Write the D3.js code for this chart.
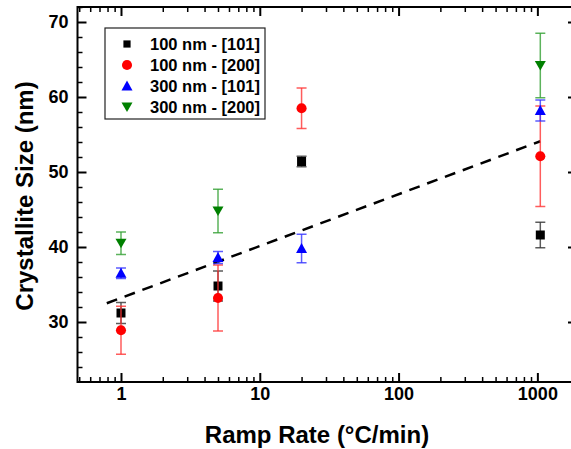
<!DOCTYPE html>
<html lang="en">
<head>
<meta charset="UTF-8">
<title>Crystallite Size vs Ramp Rate</title>
<script src="https://d3js.org/d3.v7.min.js"></script>
<style>
  body { margin: 0; background: #fff; }
  text { font-family: "Liberation Sans", Arial, sans-serif; font-weight: bold; }
</style>
</head>
<body>
<script>
// data
var rampRates = [1, 5, 20, 1050];
var seriesNames = ["100 nm - [101]", "100 nm - [200]", "300 nm - [101]", "300 nm - [200]"];
var size100_101 = [31.2, 34.8, 51.4, 41.6];
var err100_101 = [1.4, 2.0, 0.7, 1.7];
var size100_200 = [28.9, 33.2, 58.5, 52.1];
var err100_200 = [3.2, 4.4, 2.7, 6.7];
var size300_101 = [36.5, 38.6, 39.8, 58.2];
var err300_101 = [0.7, 0.8, 1.9, 1.4];
var size300_200 = [40.5, 44.8, null, 64.2];
var err300_200 = [1.5, 2.9, null, 4.3];
var fitX = [0.79, 1050];
var fitY = [32.5, 54.1];
var xTickLabels = [1, 10, 100, 1000];
var yTickLabels = [30, 40, 50, 60, 70];

var W = 571, H = 449;
var pLeft = 77.5, pRight = 577, pTop = 7, pBottom = 382;

var svg = d3.select("body").append("svg")
    .attr("width", W)
    .attr("height", H);

var x = d3.scaleLog().domain([0.486, 1930]).range([pLeft, pRight]);
var y = d3.scaleLinear().domain([22, 72]).range([pBottom, pTop]);

var xMinor = x.ticks().filter(function (d) { return xTickLabels.indexOf(d) < 0; });
var yMinor = d3.range(24, 72.1, 2).filter(function (d) { return d % 10 !== 0; });

function styleAxis(g, w) {
    g.select(".domain").remove();
    g.selectAll("line").attr("stroke", "#000").attr("stroke-width", w);
    g.selectAll("text").attr("fill", "#000").style("font-size", "18px");
}

// bottom axis
svg.append("g").attr("transform", "translate(0," + pBottom + ")")
    .call(d3.axisBottom(x).tickValues(xMinor).tickSize(-5).tickFormat(""))
    .call(styleAxis, 1.5);
svg.append("g").attr("transform", "translate(0," + pBottom + ")")
    .call(d3.axisBottom(x).tickValues(xTickLabels).tickSize(-9).tickPadding(5).tickFormat(d3.format("d")))
    .call(styleAxis, 2);
// top axis
svg.append("g").attr("transform", "translate(0," + pTop + ")")
    .call(d3.axisTop(x).tickValues(xMinor).tickSize(-5).tickFormat(""))
    .call(styleAxis, 1.5);
svg.append("g").attr("transform", "translate(0," + pTop + ")")
    .call(d3.axisTop(x).tickValues(xTickLabels).tickSize(-9).tickFormat(""))
    .call(styleAxis, 2);
// left axis
svg.append("g").attr("transform", "translate(" + pLeft + ",0)")
    .call(d3.axisLeft(y).tickValues(yMinor).tickSize(-5).tickFormat(""))
    .call(styleAxis, 1.5);
svg.append("g").attr("transform", "translate(" + pLeft + ",0)")
    .call(d3.axisLeft(y).tickValues(yTickLabels).tickSize(-9).tickPadding(9))
    .call(styleAxis, 2);
// right axis
svg.append("g").attr("transform", "translate(" + pRight + ",0)")
    .call(d3.axisRight(y).tickValues(yMinor).tickSize(-5).tickFormat(""))
    .call(styleAxis, 1.5);
svg.append("g").attr("transform", "translate(" + pRight + ",0)")
    .call(d3.axisRight(y).tickValues(yTickLabels).tickSize(-9).tickFormat(""))
    .call(styleAxis, 2);

// frame
svg.append("rect")
    .attr("x", pLeft).attr("y", pTop)
    .attr("width", pRight - pLeft).attr("height", pBottom - pTop)
    .attr("fill", "none").attr("stroke", "#000").attr("stroke-width", 2);

// marker shapes
function shapePath(kind) {
    if (kind === "square") return "M-4.5,-4.5H4.5V4.5H-4.5Z";
    if (kind === "circle") return d3.symbol(d3.symbolCircle, 80)();
    if (kind === "up") return "M0,-5.5L5.5,4.5L-5.5,4.5Z";
    return "M0,5L5.5,-4.5L-5.5,-4.5Z";
}

var series = [
    { name: seriesNames[0], vals: size100_101, errs: err100_101, color: "#000000", err: "#333333", shape: "square" },
    { name: seriesNames[1], vals: size100_200, errs: err100_200, color: "#ff0000", err: "#ff3333", shape: "circle" },
    { name: seriesNames[2], vals: size300_101, errs: err300_101, color: "#0000ff", err: "#3333ff", shape: "up" },
    { name: seriesNames[3], vals: size300_200, errs: err300_200, color: "#008000", err: "#33a033", shape: "down" }
];

// dashed fit line
var fitPts = fitX.map(function (d, i) { return [d, fitY[i]]; });
svg.append("path")
    .attr("d", d3.line().x(function (d) { return x(d[0]); }).y(function (d) { return y(d[1]); })(fitPts))
    .attr("fill", "none")
    .attr("stroke", "#000")
    .attr("stroke-width", 2.5)
    .attr("stroke-dasharray", "11,8");

series.forEach(function (s) {
    var pts = rampRates.map(function (r, i) { return { x: r, v: s.vals[i], e: s.errs[i] }; })
        .filter(function (p) { return p.v != null; });
    var g = svg.append("g");
    var eb = g.selectAll("g.err").data(pts).enter().append("g")
        .attr("stroke", s.err).attr("stroke-opacity", 0.8).attr("stroke-width", 1.5);
    eb.append("line")
        .attr("x1", function (p) { return x(p.x); }).attr("x2", function (p) { return x(p.x); })
        .attr("y1", function (p) { return y(p.v - p.e); }).attr("y2", function (p) { return y(p.v + p.e); });
    [-1, 1].forEach(function (sgn) {
        eb.append("line")
            .attr("x1", function (p) { return x(p.x) - 5; }).attr("x2", function (p) { return x(p.x) + 5; })
            .attr("y1", function (p) { return y(p.v + sgn * p.e); }).attr("y2", function (p) { return y(p.v + sgn * p.e); });
    });
    g.selectAll("path.mk").data(pts).enter().append("path")
        .attr("class", "mk")
        .attr("d", shapePath(s.shape))
        .attr("transform", function (p) { return "translate(" + x(p.x) + "," + y(p.v) + ")"; })
        .attr("fill", s.color);
});

// legend
var leg = svg.append("g");
leg.append("rect")
    .attr("x", 105).attr("y", 28).attr("width", 160).attr("height", 91)
    .attr("fill", "#fff").attr("stroke", "#222").attr("stroke-width", 1.2);
series.forEach(function (s, i) {
    var ly = 44 + i * 21;
    leg.append("path")
        .attr("d", shapePath(s.shape))
        .attr("transform", "translate(127," + ly + ")" + (s.shape === "square" ? " scale(0.8)" : ""))
        .attr("fill", s.color);
    leg.append("text")
        .attr("x", 150).attr("y", ly).attr("dy", "0.36em")
        .style("font-size", "16.5px")
        .text(s.name);
});

// axis titles
svg.append("text")
    .attr("x", 317).attr("y", 443)
    .attr("text-anchor", "middle")
    .style("font-size", "24px")
    .text("Ramp Rate (°C/min)");
svg.append("text")
    .attr("transform", "translate(33,196) rotate(-90)")
    .attr("text-anchor", "middle")
    .style("font-size", "24px")
    .text("Crystallite Size (nm)");
</script>
</body>
</html>
